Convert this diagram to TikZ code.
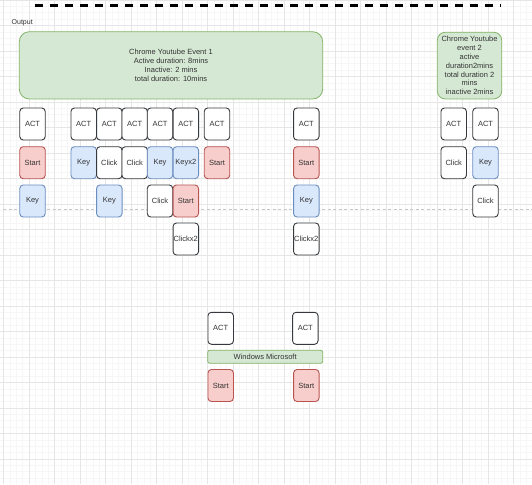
\documentclass[tikz,border=0pt]{standalone}
\usepackage{fontspec}
\setmainfont{Liberation Sans}
\definecolor{txt}{HTML}{333333}
\definecolor{boxgray}{HTML}{36393D}
\definecolor{redfill}{HTML}{F8CECC}
\definecolor{redline}{HTML}{B85450}
\definecolor{bluefill}{HTML}{DAE8FC}
\definecolor{blueline}{HTML}{6C8EBF}
\definecolor{greenfill}{HTML}{D5E8D4}
\definecolor{greenline}{HTML}{82B366}
\definecolor{minorg}{HTML}{F6F6F6}
\definecolor{majorg}{HTML}{E6E6E6}
\begin{document}
\begin{tikzpicture}[x=1pt,y=-1pt,
  font=\fontsize{7.5}{9}\selectfont,
  basebox/.style={draw, line width=0.9pt, rounded corners=3.5pt, minimum width=25.5pt, minimum height=32pt, inner sep=0pt, text=txt},
  actbox/.style={basebox, draw=boxgray, fill=white},
  clickbox/.style={basebox, draw=boxgray, fill=white},
  startbox/.style={basebox, draw=redline, fill=redfill},
  keybox/.style={basebox, draw=blueline, fill=bluefill},
  greenbox/.style={draw=greenline, fill=greenfill, line width=0.8pt, text=txt, align=center, inner sep=0pt},
  minorline/.style={draw=minorg, line width=0.6pt},
  majorline/.style={draw=majorg, line width=0.8pt}]
\useasboundingbox (0,0) rectangle (532,484);
\fill[white] (0,0) rectangle (532,484);
% grid
\foreach \i in {0,...,82}{\draw[minorline] ({3.6+\i*6.375},0) -- ({3.6+\i*6.375},484);}
\foreach \j in {0,...,75}{\draw[minorline] (0,{\j*6.375}) -- (532,{\j*6.375});}
\foreach \i in {0,...,20}{\draw[majorline] ({3.6+\i*25.5},0) -- ({3.6+\i*25.5},484);}
\foreach \j in {0,...,18}{\draw[majorline] (0,{\j*25.5}) -- (532,{\j*25.5});}
% dashed separators
\coordinate (blkL) at (35,6);
\coordinate (blkR) at (501,6);
\draw[line width=3pt, dash pattern=on 8.3pt off 6.7pt] (blkL) -- (blkR);
\coordinate (gryL) at (3,209.5);
\coordinate (gryR) at (532,209.5);
\draw[draw=black!22, line width=0.9pt, dash pattern=on 3pt off 2.5pt] (gryL) -- (gryR);
% title
\node[anchor=west, text=txt, inner sep=0pt, font=\fontsize{7}{8}\selectfont] (out) at (11.5,22.3) {Output};
% green summary boxes
\node[greenbox, rounded corners=10pt, minimum width=303.4pt, minimum height=67.3pt] (ev1) at (171,65.35)
  {Chrome Youtube Event 1\\Active duration: 8mins\\Inactive: 2 mins\\total duration: 10mins};
\node[greenbox, rounded corners=8pt, minimum width=64.4pt, minimum height=66.7pt, font=\fontsize{7.5}{8.8}\selectfont] (ev2) at (469.5,65.6)
  {Chrome Youtube\\event 2\\active\\duration2mins\\total duration 2\\mins\\inactive 2mins};
% column 1
\node[actbox] (a1) at (32.5,124) {ACT};
\node[startbox] (s1) at (32.5,162.7) {Start};
\node[keybox] (k1) at (32.5,201) {Key};
% column 2
\node[actbox] (a2) at (83.7,124) {ACT};
\node[keybox] (k2) at (83.7,162.7) {Key};
% column 3
\node[actbox] (a3) at (109.3,124) {ACT};
\node[clickbox] (c3) at (109.3,162.7) {Click};
\node[keybox] (k3) at (109.3,201) {Key};
% column 4
\node[actbox] (a4) at (134.7,124) {ACT};
\node[clickbox] (c4) at (134.7,162.7) {Click};
% column 5
\node[actbox] (a5) at (160,124) {ACT};
\node[keybox] (k5) at (160,162.7) {Key};
\node[clickbox] (c5) at (160,201) {Click};
% column 6
\node[actbox] (a6) at (185.8,124) {ACT};
\node[keybox] (k6) at (185.8,162.7) {Keyx2};
\node[startbox] (s6) at (185.8,201) {Start};
\node[clickbox] (c6) at (185.8,239) {Clickx2};
% column 7
\node[actbox] (a7) at (217,124) {ACT};
\node[startbox] (s7) at (217,162.7) {Start};
% column 8
\node[actbox] (a8) at (306.3,124) {ACT};
\node[startbox] (s8) at (306.3,162.7) {Start};
\node[keybox] (k8) at (306.3,201) {Key};
\node[clickbox] (c8) at (306.3,239) {Clickx2};
% column 9
\node[actbox] (a9) at (453.7,124) {ACT};
\node[clickbox] (c9) at (453.7,162.7) {Click};
% column 10
\node[actbox] (a10) at (485.5,124) {ACT};
\node[keybox] (k10) at (485.5,162.7) {Key};
\node[clickbox] (c10) at (485.5,201) {Click};
% Windows group
\node[actbox] (wa1) at (220.7,328.3) {ACT};
\node[actbox] (wa2) at (305.3,328.3) {ACT};
\node[greenbox, rounded corners=2pt, minimum width=115pt, minimum height=13pt] (win) at (265.2,356.8) {Windows Microsoft};
\node[startbox] (ws1) at (220.7,385.5) {Start};
\node[startbox] (ws2) at (306.3,385.5) {Start};
\end{tikzpicture}
\end{document}
